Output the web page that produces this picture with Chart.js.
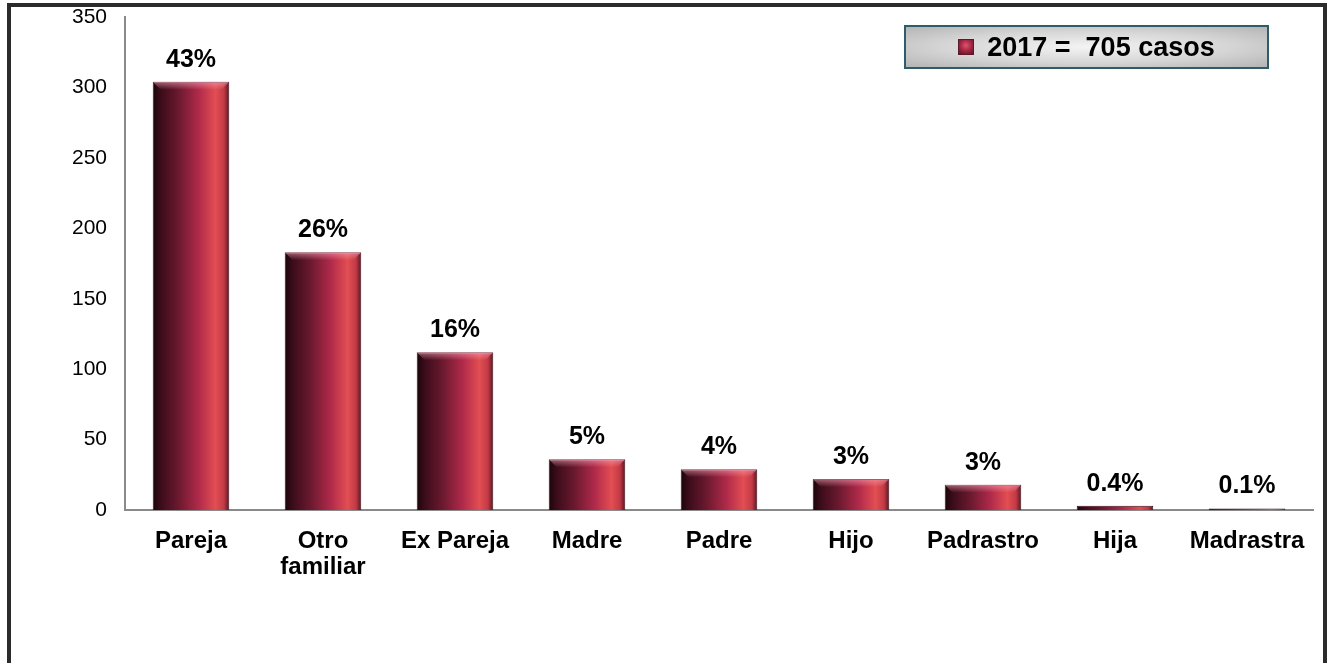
<!DOCTYPE html>
<html>
<head>
<meta charset="utf-8">
<script src="https://cdn.jsdelivr.net/npm/chart.js@4"></script>
<style>
  html, body { margin:0; padding:0; background:#fff; overflow:hidden; }
  #wrap { position:relative; width:1331px; height:663px; }
  #frame { position:absolute; left:7px; top:3px; width:1312px; height:700px;
           border:4px solid #2b2b2b; border-bottom:none; pointer-events:none; }
  #chart { position:absolute; left:0; top:0; }
  #legend { position:absolute; left:904px; top:25px; width:361px; height:40px;
            border:2px solid #2d5c6b;
            background: radial-gradient(ellipse at center, #f4f4f4 0%, #d6d6d6 55%, #b4b4b4 100%);
            font: bold 27px "Liberation Sans", Arial, sans-serif; color:#000;
            display:flex; align-items:center; justify-content:center; white-space:pre; }
  #legend .mk { display:inline-block; width:16px; height:16px; margin-right:13px;
                background: radial-gradient(circle at 50% 40%, #d9566e 0%, #a52644 45%, #4a0e1e 100%);
                box-shadow: inset 0 0 0 1px #5a1a28; }
</style>
</head>
<body>
<div id="wrap">
  <canvas id="chart" width="1331" height="663"></canvas>
  <div id="legend"></div>
  <div id="frame"></div>
</div>
<script>
/* ---------- data ---------- */
const categories = ['Pareja', ['Otro', 'familiar'], 'Ex Pareja', 'Madre', 'Padre', 'Hijo', 'Padrastro', 'Hija', 'Madrastra'];
const casos = [304, 183, 112, 36, 29, 22, 18, 3, 1];
const porcentajes = ['43%', '26%', '16%', '5%', '4%', '3%', '3%', '0.4%', '0.1%'];
const seriesLabel = '2017 =  705 casos';
const yTicks = [0, 50, 100, 150, 200, 250, 300, 350];

const FONT = '"Liberation Sans", Arial, sans-serif';
const BAR_PCT = 0.58;

/* bar fill: horizontal maroon -> coral gradient, placed from the x scale */
function barFill(ctx){
  const chart = ctx.chart;
  const xs = chart.scales.x;
  if(!chart.chartArea || !xs || ctx.dataIndex === undefined) return '#8a2040';
  const cx = xs.getPixelForValue(ctx.dataIndex);
  const half = (xs.width / categories.length) * BAR_PCT / 2;
  if(!isFinite(cx) || !isFinite(half) || half <= 0) return '#8a2040';
  const g = chart.ctx.createLinearGradient(cx - half, 0, cx + half, 0);
  g.addColorStop(0.00, '#1c0509');
  g.addColorStop(0.10, '#3a0c1a');
  g.addColorStop(0.35, '#6e1a30');
  g.addColorStop(0.60, '#b02a4a');
  g.addColorStop(0.82, '#e24e52');
  g.addColorStop(0.93, '#c23a46');
  g.addColorStop(1.00, '#5a1420');
  return g;
}

/* percentages above bars */
const pctLabels = {
  id: 'pctLabels',
  afterDatasetsDraw(chart){
    const c = chart.ctx;
    const meta = chart.getDatasetMeta(0);
    c.save();
    c.font = 'bold 25px ' + FONT;
    c.fillStyle = '#000';
    c.textAlign = 'center';
    c.textBaseline = 'middle';
    meta.data.forEach((bar, i) => {
      c.fillText(porcentajes[i], bar.x, bar.y - 22);
    });
    c.restore();
  }
};

/* thin top bevel highlight on each bar */
const bevel = {
  id: 'bevel',
  afterDatasetsDraw(chart){
    const c = chart.ctx;
    const meta = chart.getDatasetMeta(0);
    c.save();
    meta.data.forEach(bar => {
      const h = bar.base - bar.y;
      if(h < 6) return;
      const w = bar.width;
      const l = bar.x - w/2, t = bar.y;
      const bh = Math.min(8, h/3);
      const g = c.createLinearGradient(0, t, 0, t + bh);
      g.addColorStop(0, 'rgba(255,170,190,0.55)');
      g.addColorStop(1, 'rgba(255,170,190,0)');
      c.fillStyle = g;
      c.beginPath();
      c.moveTo(l, t); c.lineTo(l + w, t); c.lineTo(l + w - bh, t + bh); c.lineTo(l + bh, t + bh);
      c.closePath(); c.fill();
    });
    c.restore();
  }
};

new Chart(document.getElementById('chart'), {
  type: 'bar',
  data: {
    labels: categories,
    datasets: [{
      label: seriesLabel,
      data: casos,
      backgroundColor: barFill,
      borderColor: '#3a0e18',
      borderWidth: 1,
      categoryPercentage: 1,
      barPercentage: BAR_PCT
    }]
  },
  options: {
    responsive: false,
    animation: false,
    layout: { padding: { top: 17, right: 18, left: 0, bottom: 0 } },
    plugins: { legend: { display: false }, tooltip: { enabled: false } },
    scales: {
      x: {
        grid: { display: false, drawTicks: false },
        border: { display: true, color: '#8a8a8a', width: 2 },
        ticks: { color: '#000', font: { family: FONT, size: 24, weight: 'bold', lineHeight: 1.1 }, padding: 18, maxRotation: 0, autoSkip: false },
        afterFit(s){ s.height = 153; s.paddingLeft = 0; s.paddingRight = 0; }
      },
      y: {
        min: 0, max: 350,
        grid: { display: false, drawTicks: false },
        border: { display: true, color: '#8a8a8a', width: 2 },
        afterBuildTicks(s){ s.ticks = yTicks.map(v => ({ value: v })); },
        ticks: { color: '#000', font: { family: FONT, size: 21 }, padding: 18 },
        afterFit(s){ s.width = 125; s.paddingTop = 0; s.paddingBottom = 0; }
      }
    }
  },
  plugins: [pctLabels, bevel]
});

const lg = document.getElementById('legend');
lg.innerHTML = '<span class="mk"></span>';
lg.appendChild(document.createTextNode(seriesLabel));
</script>
</body>
</html>
